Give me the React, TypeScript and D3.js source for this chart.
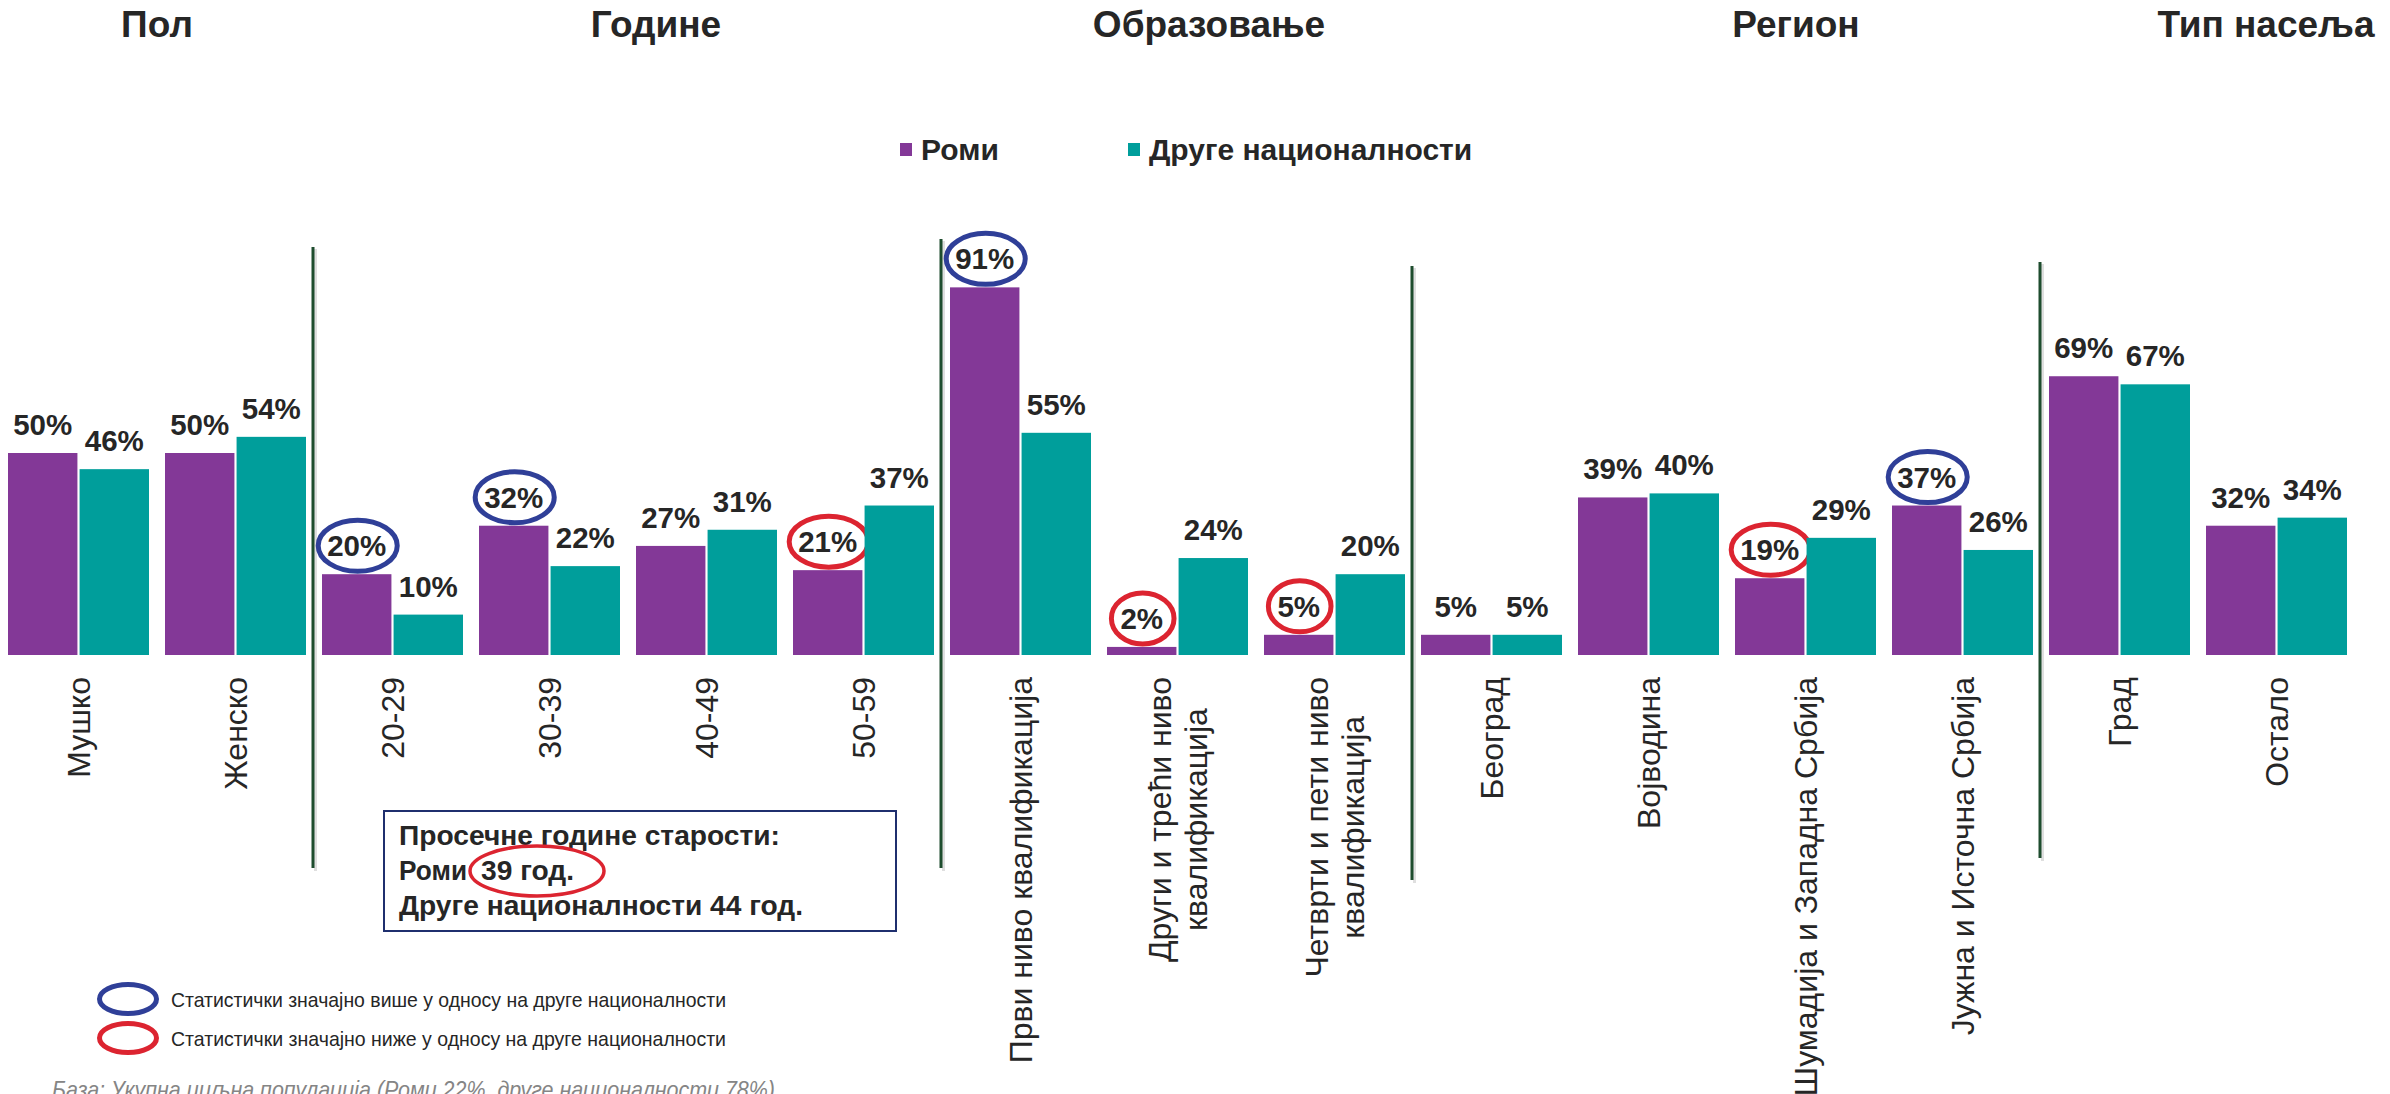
import React, { useEffect, useRef } from "react";
import * as d3 from "d3";

// ---------- data ----------
const categories = [
  "Мушко",
  "Женско",
  "20-29",
  "30-39",
  "40-49",
  "50-59",
  "Први ниво квалификација",
  "Други и трећи ниво\nквалификација",
  "Четврти и пети ниво\nквалификација",
  "Београд",
  "Војводина",
  "Шумадија и Западна Србија",
  "Јужна и Источна Србија",
  "Град",
  "Остало",
];
const seriesNames = ["Роми", "Друге националности"];
const romaValues = [50, 50, 20, 32, 27, 21, 91, 2, 5, 5, 39, 19, 37, 69, 32];
const otherValues = [46, 54, 10, 22, 31, 37, 55, 24, 20, 5, 40, 29, 26, 67, 34];
// significance of the Roma value vs other nationalities
const romaSignificance = [
  "", "", "higher", "higher", "", "lower", "higher", "lower", "lower", "", "", "lower", "higher", "", "",
];
const sectionTitles = ["Пол", "Године", "Образовање", "Регион", "Тип насеља"];
const sectionLastIndex = [1, 5, 8, 12, 14];
const averageAgeTitle = "Просечне године старости:";
const averageAgeRoma = ["Роми", "39 год."];
const averageAgeOthers = "Друге националности 44 год.";
const significanceLegend = [
  "Статистички значајно више у односу на друге националности",
  "Статистички значајно ниже у односу на друге националности",
];
const footnote = "База: Укупна циљна популација (Роми 22%, друге националности 78%)";

// ---------- layout / style ----------
const W = 2390;
const H = 1094;
const FONT = "'Liberation Sans', Arial, Helvetica, sans-serif";
const COLORS = ["#833897", "#009E9B"];
const BLUE = "#2F3F98";
const RED = "#DC2430";
const TEXT = "#262626";
const DIVIDER = "#1E4D2E";
const TITLE_X = [157, 656, 1209, 1796, 2266];
const DIVIDER_Y = [
  [247, 868],
  [239, 868],
  [266, 880],
  [262, 858],
];

export default function App() {
  const ref = useRef<SVGSVGElement | null>(null);

  useEffect(() => {
    const svg = d3.select(ref.current);
    svg.selectAll("*").remove();

    const x = d3
      .scaleBand<string>()
      .domain(categories)
      .range([8, 2347])
      .paddingInner(16 / 157)
      .paddingOuter(0);
    const xs = d3
      .scaleBand<string>()
      .domain(seriesNames)
      .range([0, x.bandwidth()])
      .paddingInner(0.03);
    const y = d3.scaleLinear().domain([0, 100]).range([655, 251]);

    const g = svg.append("g").attr("font-family", FONT);

    // section titles
    g.selectAll("text.title")
      .data(sectionTitles)
      .join("text")
      .attr("class", "title")
      .attr("x", (_, i) => TITLE_X[i])
      .attr("y", 37)
      .attr("text-anchor", "middle")
      .attr("font-size", 37)
      .attr("font-weight", "bold")
      .attr("fill", TEXT)
      .text((d) => d);

    // series legend
    const legX = [900, 1128];
    seriesNames.forEach((name, i) => {
      g.append("rect")
        .attr("x", legX[i])
        .attr("y", 143)
        .attr("width", 12)
        .attr("height", 13)
        .attr("fill", COLORS[i]);
      g.append("text")
        .attr("x", legX[i] + 21)
        .attr("y", 160)
        .attr("font-size", 30)
        .attr("font-weight", "bold")
        .attr("fill", TEXT)
        .text(name);
    });

    // dividers
    sectionLastIndex.slice(0, -1).forEach((idx, i) => {
      const xa = x(categories[idx])! + x.bandwidth();
      const xb = x(categories[idx + 1])!;
      const xm = (xa + xb) / 2 - 1;
      g.append("line")
        .attr("x1", xm + 2.5)
        .attr("x2", xm + 2.5)
        .attr("y1", DIVIDER_Y[i][0] + 2)
        .attr("y2", DIVIDER_Y[i][1] + 3)
        .attr("stroke", "#b8b8b8")
        .attr("stroke-opacity", 0.45)
        .attr("stroke-width", 3);
      g.append("line")
        .attr("x1", xm)
        .attr("x2", xm)
        .attr("y1", DIVIDER_Y[i][0])
        .attr("y2", DIVIDER_Y[i][1])
        .attr("stroke", DIVIDER)
        .attr("stroke-width", 3);
    });

    // bars
    const rows = categories.map((c, i) => ({
      cat: c,
      values: [romaValues[i], otherValues[i]],
      sig: romaSignificance[i],
    }));

    const groups = g
      .selectAll("g.grp")
      .data(rows)
      .join("g")
      .attr("class", "grp")
      .attr("transform", (d) => `translate(${x(d.cat)},0)`);

    groups.each(function (d) {
      const gg = d3.select(this);
      d.values.forEach((v, si) => {
        const bx = xs(seriesNames[si])!;
        const bw = xs.bandwidth();
        gg.append("rect")
          .attr("x", bx)
          .attr("y", y(v))
          .attr("width", bw)
          .attr("height", y(0) - y(v))
          .attr("fill", COLORS[si]);
        const cx = bx + bw / 2;
        const by = y(v) - 18;
        const t = gg
          .append("text")
          .attr("x", cx)
          .attr("y", by)
          .attr("text-anchor", "middle")
          .attr("font-size", 29.5)
          .attr("font-weight", "bold")
          .attr("fill", TEXT)
          .text(`${v}%`);
        if (si === 0 && d.sig) {
          const tw = (t.node() as SVGTextElement).getComputedTextLength();
          gg.append("ellipse")
            .attr("cx", cx + 1)
            .attr("cy", by - 10.5)
            .attr("rx", tw / 2 + 10)
            .attr("ry", 25.5)
            .attr("fill", "none")
            .attr("stroke", d.sig === "higher" ? BLUE : RED)
            .attr("stroke-width", 5);
        }
      });

      // category label (rotated)
      const lines = d.cat.split("\n");
      const cx = x.bandwidth() / 2;
      const lg = gg.append("g").attr("transform", `translate(${cx},677) rotate(-90)`);
      if (lines.length === 1) {
        lg.append("text")
          .attr("x", 0)
          .attr("y", 0)
          .attr("text-anchor", "end")
          .attr("dominant-baseline", "central")
          .attr("font-size", 32)
          .attr("fill", TEXT)
          .text(lines[0]);
      } else {
        const texts = lines.map((ln, li) =>
          lg
            .append("text")
            .attr("y", (li - (lines.length - 1) / 2) * 36)
            .attr("text-anchor", "middle")
            .attr("dominant-baseline", "central")
            .attr("font-size", 32)
            .attr("fill", TEXT)
            .text(ln)
        );
        const maxLen = d3.max(texts, (t) => (t.node() as SVGTextElement).getComputedTextLength()) || 0;
        texts.forEach((t) => t.attr("x", -maxLen / 2));
      }
    });

    // average age box
    g.append("rect")
      .attr("x", 384)
      .attr("y", 811)
      .attr("width", 512)
      .attr("height", 120)
      .attr("fill", "white")
      .attr("stroke", "#1F2F6E")
      .attr("stroke-width", 2);
    const boxText = (str: string, xx: number, yy: number, len: number) =>
      g
        .append("text")
        .attr("x", xx)
        .attr("y", yy)
        .attr("font-size", 27)
        .attr("font-weight", "bold")
        .attr("fill", TEXT)
        .attr("textLength", len)
        .attr("lengthAdjust", "spacingAndGlyphs")
        .text(str);
    boxText(averageAgeTitle, 399, 845, 381);
    boxText(averageAgeRoma[0], 399, 880, 68);
    boxText(averageAgeRoma[1], 481, 880, 93);
    boxText(averageAgeOthers, 399, 915, 404);
    g.append("ellipse")
      .attr("cx", 537)
      .attr("cy", 871)
      .attr("rx", 67)
      .attr("ry", 25)
      .attr("fill", "none")
      .attr("stroke", RED)
      .attr("stroke-width", 3.5);

    // significance legend
    significanceLegend.forEach((s, i) => {
      const cy = 999 + i * 39;
      g.append("ellipse")
        .attr("cx", 128)
        .attr("cy", cy)
        .attr("rx", 28.5)
        .attr("ry", 14.5)
        .attr("fill", "none")
        .attr("stroke", i === 0 ? BLUE : RED)
        .attr("stroke-width", 5);
      g.append("text")
        .attr("x", 171)
        .attr("y", cy + 8)
        .attr("font-size", 21)
        .attr("fill", TEXT)
        .attr("textLength", 555)
        .attr("lengthAdjust", "spacingAndGlyphs")
        .text(s);
    });

    // footnote
    g.append("text")
      .attr("x", 52)
      .attr("y", 1098)
      .attr("font-size", 24)
      .attr("font-style", "italic")
      .attr("fill", "#858585")
      .attr("textLength", 723)
      .attr("lengthAdjust", "spacingAndGlyphs")
      .text(footnote);
  }, []);

  return (
    <svg
      ref={ref}
      width={W}
      height={H}
      style={{ position: "absolute", left: 0, top: 0, background: "white" }}
    />
  );
}
